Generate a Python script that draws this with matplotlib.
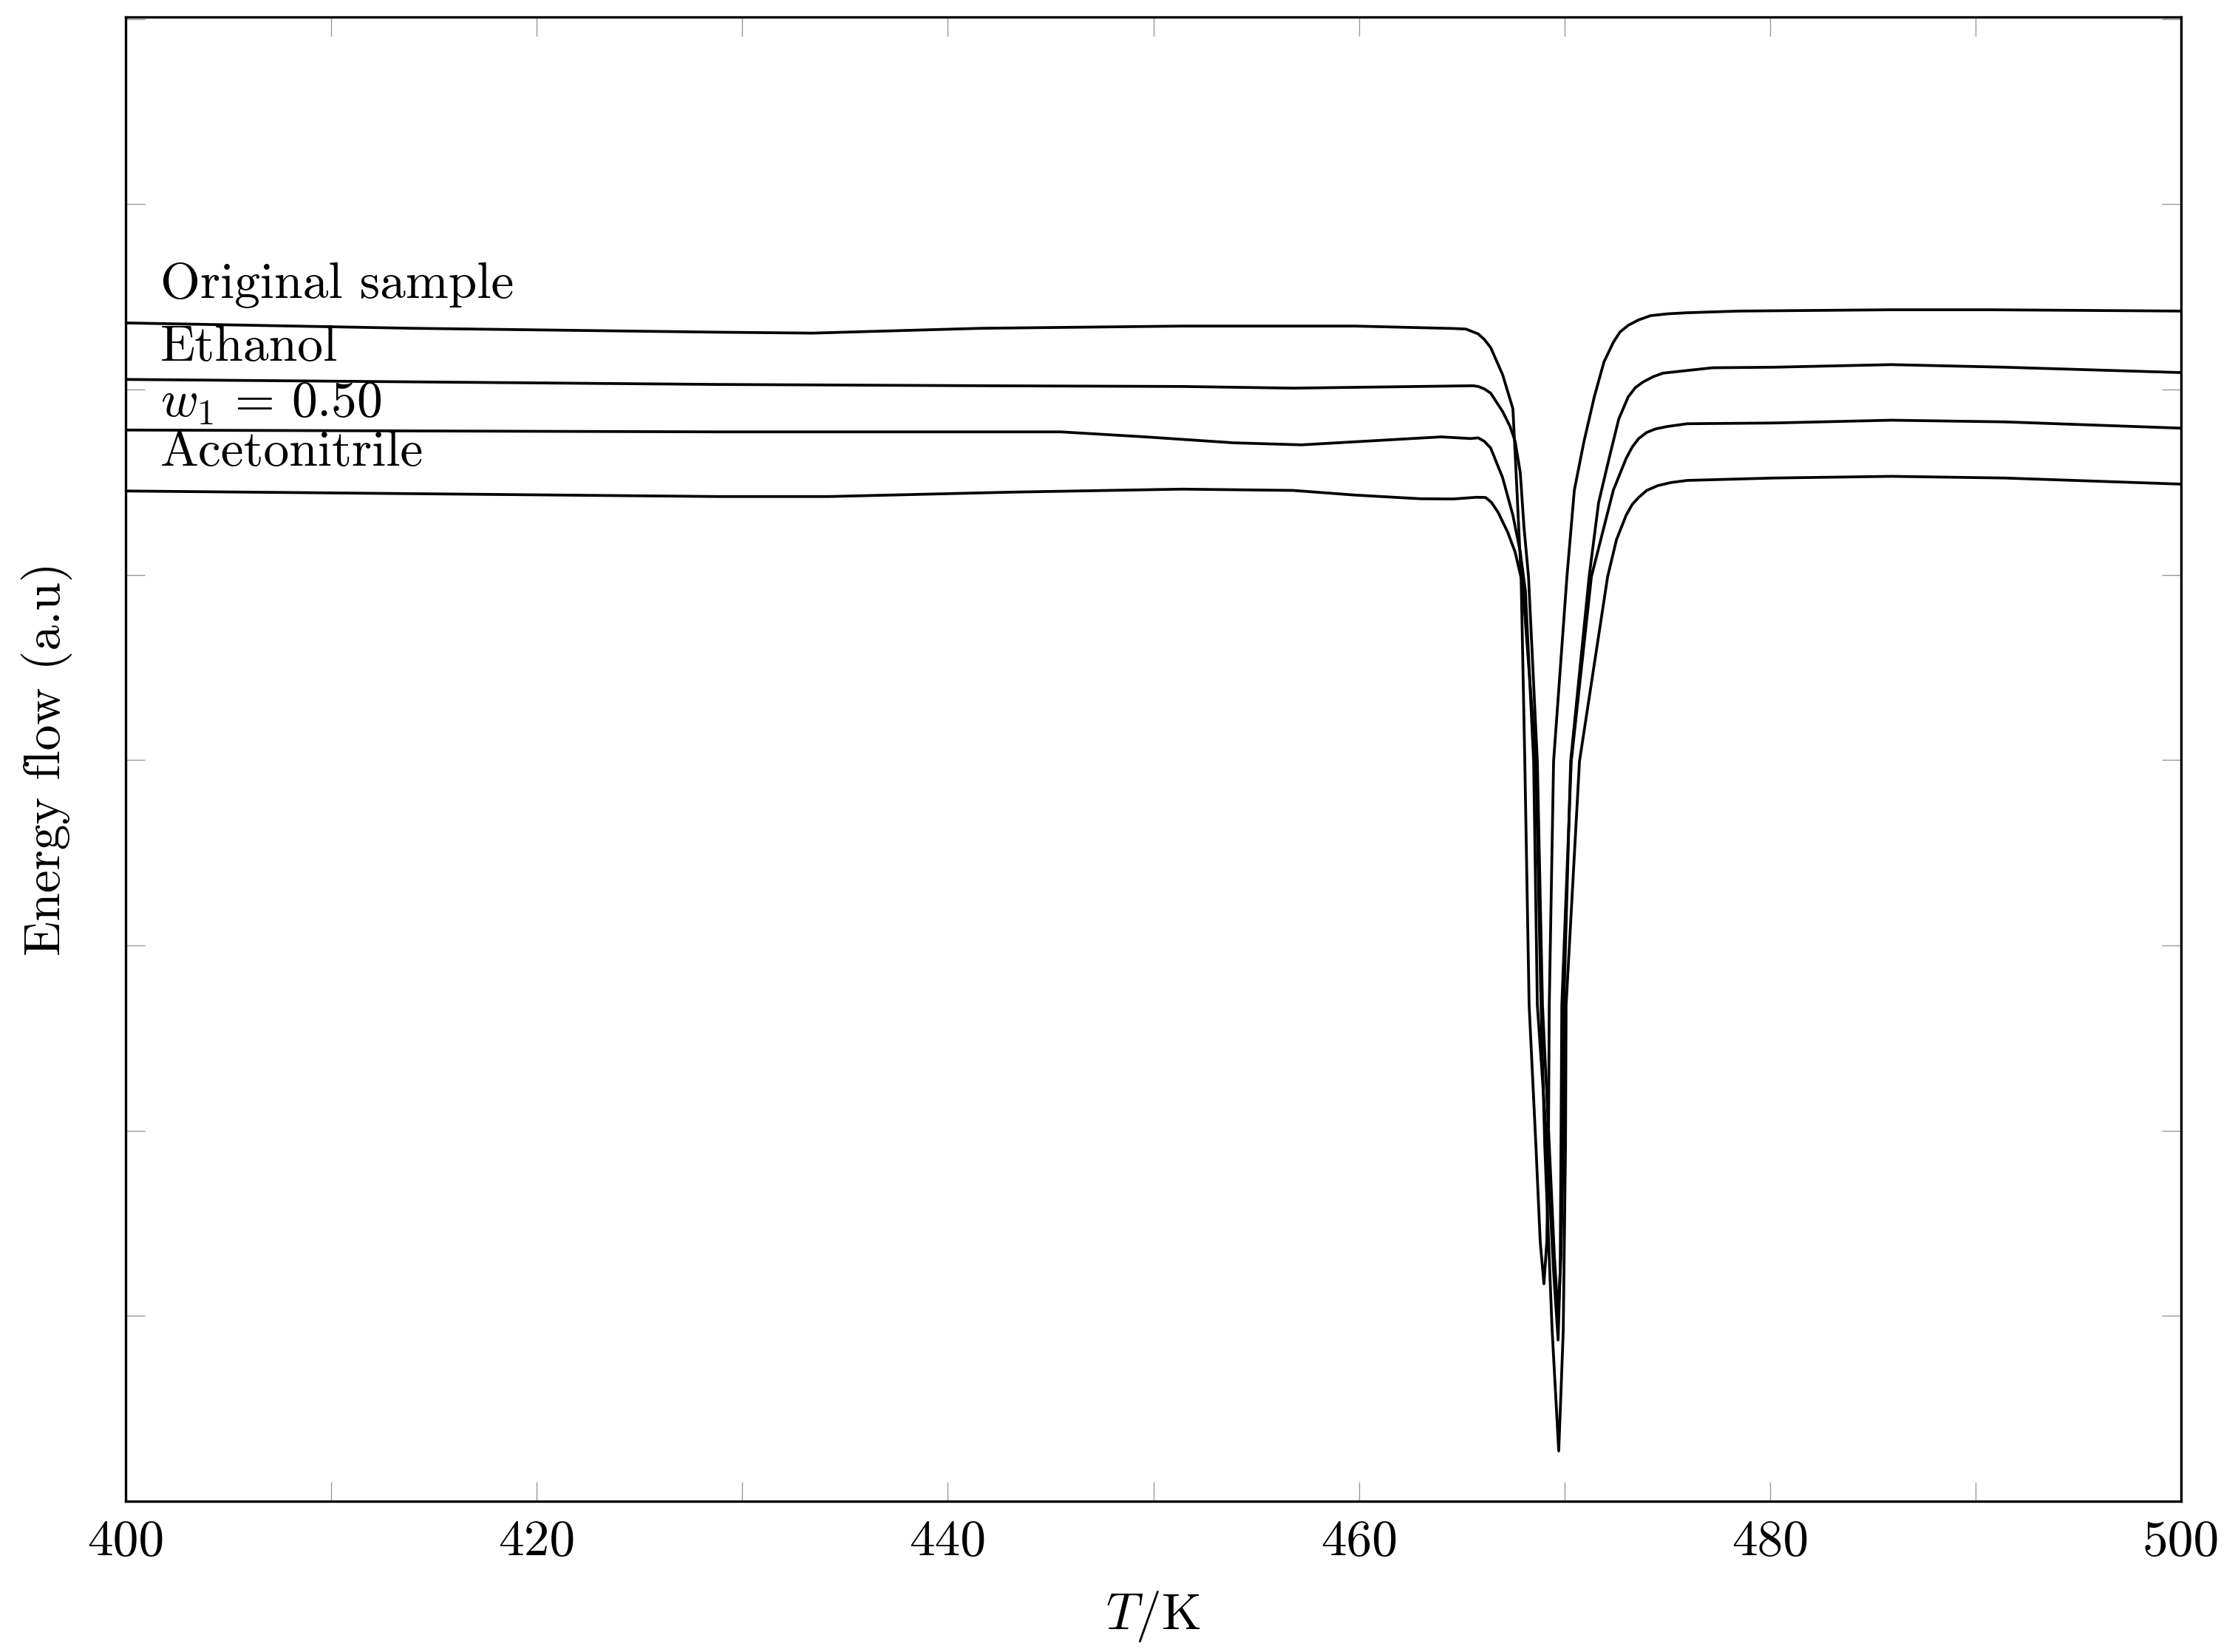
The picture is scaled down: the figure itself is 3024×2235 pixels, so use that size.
import numpy as np
import matplotlib
matplotlib.use("Agg")
import matplotlib.pyplot as plt
from matplotlib.ticker import MultipleLocator, FuncFormatter

plt.rcParams['font.family'] = 'serif'
plt.rcParams['font.serif'] = ['cmr10']
plt.rcParams['mathtext.fontset'] = 'cm'
plt.rcParams['axes.unicode_minus'] = False
plt.rcParams['axes.formatter.use_mathtext'] = True

# DSC curves (T in K, energy flow in arbitrary units)
T_orig = [400.0, 414.0, 428.8, 433.4, 441.6, 451.4, 459.8, 464.6, 465.2, 465.8, 466.1, 466.41,
          466.99, 467.49, 467.60, 467.75, 467.89, 468.07, 468.28, 468.61, 468.82, 469.00, 469.14,
          469.22, 469.26, 469.47, 470.12, 470.48, 470.95, 471.45, 471.92, 472.38, 472.7, 473.10,
          473.6, 474.18, 475.0, 475.98, 478.5, 485.9, 490.7, 500.0]
E_orig = [6.359, 6.330, 6.309, 6.304, 6.330, 6.342, 6.342, 6.329, 6.326, 6.300, 6.270, 6.226,
          6.080, 5.896, 5.656, 5.309, 4.990, 3.993, 2.677, 1.919, 1.400, 1.173, 1.400,
          1.919, 2.677, 3.993, 4.990, 5.457, 5.720, 5.960, 6.148, 6.255, 6.310, 6.346,
          6.375, 6.398, 6.408, 6.414, 6.423, 6.430, 6.430, 6.423]

T_eth = [400.0, 428.8, 441.6, 451.4, 456.8, 465.55, 465.80, 466.1, 466.41, 466.99, 467.35,
         467.60, 467.85, 468.03, 468.25, 468.68, 468.93, 469.26, 469.51, 469.69, 469.83, 469.94,
         469.97, 470.30, 471.20, 471.66, 472.17, 472.64, 473.10, 473.45, 473.82, 474.3, 474.79,
         477.20, 480.19, 485.9, 491.4, 500.0]
E_eth = [6.054, 6.027, 6.020, 6.016, 6.007, 6.020, 6.016, 6.003, 5.980, 5.881, 5.801,
         5.720, 5.550, 5.257, 4.990, 3.993, 2.677, 1.919, 1.320, 1.001, 1.320, 1.919,
         2.677, 3.993, 4.990, 5.389, 5.628, 5.840, 5.960, 6.010, 6.040, 6.068, 6.088,
         6.117, 6.120, 6.134, 6.120, 6.091]

T_w1 = [400.0, 428.8, 445.5, 449.6, 453.9, 457.2, 464.0, 465.44, 465.80, 466.1, 466.41,
        466.99, 467.49, 467.85, 468.10, 468.50, 468.68, 469.15, 469.47, 469.69, 469.79, 469.83,
        469.87, 470.33, 471.31, 471.92, 472.38, 473.00, 473.3, 473.61, 474.0, 474.43, 475.0,
        475.98, 480.19, 485.9, 491.4, 500.0]
E_w1 = [5.781, 5.771, 5.771, 5.744, 5.712, 5.701, 5.744, 5.735, 5.739, 5.720, 5.684,
        5.524, 5.321, 5.122, 4.911, 3.993, 2.677, 1.919, 1.241, 0.870, 1.241, 1.919,
        2.677, 3.993, 4.990, 5.257, 5.457, 5.628, 5.690, 5.735, 5.768, 5.787, 5.800,
        5.815, 5.819, 5.834, 5.825, 5.791]

T_acn = [400.0, 428.8, 434.2, 443.2, 451.4, 456.8, 459.8, 463.0, 464.6, 465.7, 466.16,
         466.45, 466.77, 467.24, 467.60, 467.96, 468.61, 468.86, 469.04, 469.40, 469.72, 469.83,
         469.94, 470.05, 470.08, 470.73, 472.10, 472.53, 473.00, 473.3, 473.61, 474.0, 474.54,
         475.2, 475.98, 480.19, 485.9, 491.4, 500.0]
E_acn = [5.452, 5.422, 5.422, 5.446, 5.462, 5.455, 5.430, 5.410, 5.409, 5.418, 5.417,
         5.390, 5.337, 5.229, 5.122, 4.950, 3.993, 2.677, 1.919, 0.921, 0.271, 0.590,
         0.921, 1.919, 2.677, 3.993, 4.990, 5.189, 5.321, 5.380, 5.417, 5.455, 5.481,
         5.498, 5.509, 5.522, 5.531, 5.522, 5.489]

labels = ['Original sample', 'Ethanol', r'$w_1\,=\,0.50$', 'Acetonitrile']
label_T = [401.7, 401.7, 401.7, 401.7]
label_E = [6.494, 6.155, 5.854, 5.588]

fig = plt.figure(figsize=(15.12, 11.175), dpi=200)
ax = fig.add_axes([0.0562, 0.0913, 0.9197, 0.8984])

for T, E in [(T_orig, E_orig), (T_eth, E_eth), (T_w1, E_w1), (T_acn, E_acn)]:
    ax.plot(T, E, color='black', lw=1.35, solid_joinstyle='round')

for lab, t, e in zip(labels, label_T, label_E):
    ax.text(t, e, lab, fontsize=25, ha='left', va='baseline')

ax.set_xlim(400, 500)
ax.set_ylim(0, 8.01)
ax.xaxis.set_major_locator(MultipleLocator(10))
ax.xaxis.set_major_formatter(FuncFormatter(lambda v, p: f'{v:.0f}' if round(v) % 20 == 0 else ''))
ax.yaxis.set_major_locator(MultipleLocator(1))
ax.yaxis.set_major_formatter(FuncFormatter(lambda v, p: ''))
ax.tick_params(direction='in', length=9.5, width=0.5, color='#999999', labelsize=25,
               top=True, right=True, pad=9)
for s in ax.spines.values():
    s.set_linewidth(1.2)

ax.set_xlabel(r'$T/\mathrm{K}$', fontsize=25, labelpad=12)
ax.set_ylabel('Energy flow (a.u)', fontsize=25, labelpad=17)

fig.savefig('out.png', dpi=200)
